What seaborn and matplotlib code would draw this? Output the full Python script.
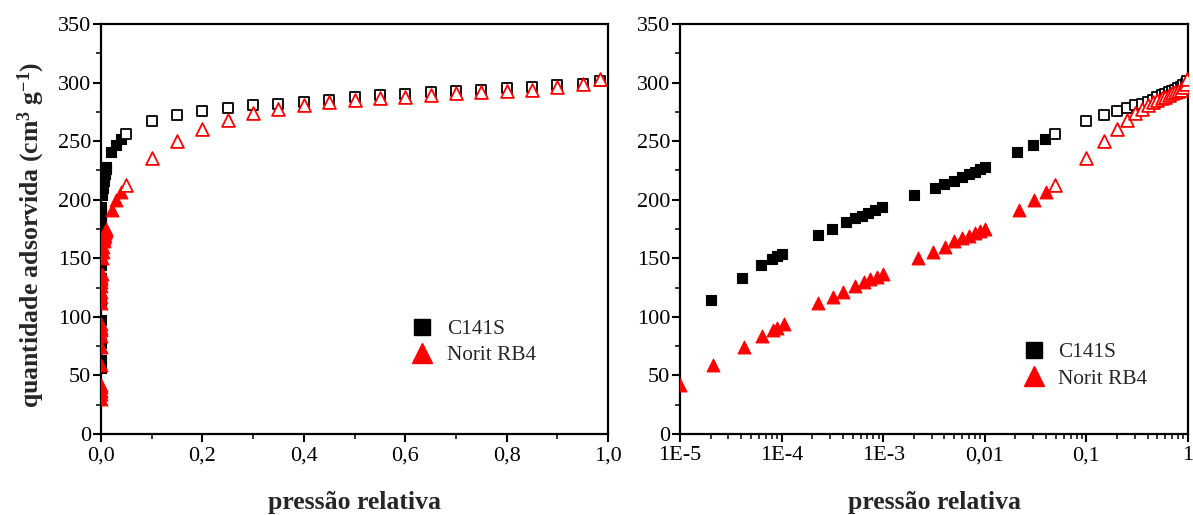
import numpy as np
import pandas as pd
import matplotlib
matplotlib.use("Agg")
import matplotlib.pyplot as plt
import seaborn as sns
from matplotlib.ticker import FixedLocator, MultipleLocator, LogLocator, NullFormatter, FixedFormatter
from matplotlib.lines import Line2D

# ---------------- data ----------------
series_names = ["C141S", "Norit RB4"]

c141s_p = [1.5e-6, 3e-6, 5e-6, 7e-6,
           2.0e-5, 4.1e-5, 6.3e-5, 8.0e-5, 9.0e-5, 1.0e-4,
           2.3e-4, 3.1e-4, 4.3e-4, 5.3e-4, 6.2e-4, 7.1e-4, 8.3e-4, 9.7e-4,
           2.0e-3, 3.2e-3, 4.0e-3, 5.0e-3, 6.0e-3, 7.0e-3, 8.0e-3, 9.0e-3, 1.0e-2,
           0.0207, 0.030, 0.039, 0.049,
           0.10, 0.15, 0.20, 0.25, 0.30, 0.35, 0.40, 0.45, 0.50, 0.55,
           0.60, 0.65, 0.70, 0.75, 0.80, 0.85, 0.90, 0.95, 0.985]
c141s_v = [56, 63, 78, 97,
           114, 133, 144, 149, 152, 154,
           170, 175, 181, 184, 186.5, 189, 191, 193.6,
           204, 210, 213.5, 216, 219, 222, 224, 226, 228,
           240.5, 247, 251.6, 256.5,
           267, 272, 275.5, 278.5, 280.5, 282, 283.5, 285, 287.5, 289,
           290.5, 292, 293, 294, 295, 296, 298, 299, 301.5]

norit_p = [2e-6, 4e-6, 6e-6, 8e-6, 1.0e-5,
           2.1e-5, 4.3e-5, 6.4e-5, 8.2e-5, 9.0e-5, 1.05e-4,
           2.3e-4, 3.2e-4, 4.05e-4, 5.3e-4, 6.4e-4, 7.4e-4, 8.6e-4, 1.0e-3,
           2.2e-3, 3.1e-3, 4.1e-3, 5.0e-3, 6.0e-3, 7.0e-3, 8.0e-3, 9.0e-3, 1.0e-2,
           0.0217, 0.0305, 0.040, 0.049,
           0.10, 0.15, 0.20, 0.25, 0.30, 0.35, 0.40, 0.45, 0.50, 0.55,
           0.60, 0.65, 0.70, 0.75, 0.80, 0.85, 0.90, 0.95, 0.985]
norit_v = [30, 34, 37, 40, 42,
           59, 74.5, 83.5, 89, 90.5, 94,
           111.5, 117, 121.5, 126.5, 130, 132, 134.3, 136.6,
           150, 155.7, 160, 164.8, 167, 169.4, 171.4, 173.4, 174.8,
           191.5, 199.8, 207, 212.5,
           236, 250, 260.5, 268, 274, 277.5, 280.5, 283, 285, 287,
           288, 289.5, 291, 292, 293, 294, 296.5, 299, 303]

left_xticks = [0.0, 0.2, 0.4, 0.6, 0.8, 1.0]
left_xticklabels = ["0,0", "0,2", "0,4", "0,6", "0,8", "1,0"]
right_xticks = [1e-5, 1e-4, 1e-3, 1e-2, 1e-1, 1]
right_xticklabels = ["1E-5", "1E-4", "1E-3", "0,01", "0,1", "1"]
y_ticks = [0, 50, 100, 150, 200, 250, 300, 350]
y_ticklabels = [str(v) for v in y_ticks]
x_label = "pressão relativa"
y_label = r"quantidade adsorvida (cm$^{\mathbf{3}}$ g$^{\mathbf{-1}}$)"

# ---------------- style ----------------
sns.set_theme(style="ticks")
plt.rcParams["font.family"] = ["Liberation Serif", "DejaVu Serif"]
plt.rcParams["mathtext.fontset"] = "custom"
plt.rcParams["mathtext.rm"] = "Liberation Serif"
plt.rcParams["mathtext.bf"] = "Liberation Serif:bold"
plt.rcParams["mathtext.it"] = "Liberation Serif:italic"

df = pd.concat([
    pd.DataFrame({"p": c141s_p, "v": c141s_v, "series": series_names[0]}),
    pd.DataFrame({"p": norit_p, "v": norit_v, "series": series_names[1]}),
], ignore_index=True)
df["state"] = np.where(df["p"] < 0.045, "filled", "open")

styles = {
    "C141S": dict(marker="s", color="black", s=55),
    "Norit RB4": dict(marker="^", color="red", s=85),
}

fig = plt.figure(figsize=(11.93, 5.15), dpi=100)
ax1 = fig.add_axes([101 / 1193, 1 - 434 / 515, 507 / 1193, 410 / 515])
ax2 = fig.add_axes([680 / 1193, 1 - 434 / 515, 508 / 1193, 410 / 515])

for ax in (ax1, ax2):
    z = 3
    for name in series_names:
        st = styles[name]
        sub_f = df[(df.series == name) & (df.state == "filled")]
        sub_o = df[(df.series == name) & (df.state == "open")]
        sns.scatterplot(data=sub_f, x="p", y="v", ax=ax, marker=st["marker"], s=st["s"],
                        color=st["color"], edgecolor=st["color"], linewidth=0.8,
                        legend=False, zorder=z)
        sns.scatterplot(data=sub_o, x="p", y="v", ax=ax, marker=st["marker"], s=st["s"],
                        facecolor="white", edgecolor=st["color"], linewidth=1.3,
                        legend=False, zorder=z)
        z += 1

    ax.set_ylim(0, 350)
    ax.yaxis.set_major_locator(FixedLocator(y_ticks))
    ax.yaxis.set_major_formatter(FixedFormatter(y_ticklabels))
    ax.yaxis.set_minor_locator(MultipleLocator(25))
    ax.set_xlabel(x_label, fontsize=18.5, fontweight="bold", labelpad=18)
    ax.set_ylabel("")
    for sp in ax.spines.values():
        sp.set_visible(True)
        sp.set_linewidth(1.6)
        sp.set_color("black")
    ax.tick_params(axis="both", which="major", direction="out", length=6, width=1.5,
                   labelsize=16, colors="black", top=False, right=False, pad=3)
    ax.tick_params(axis="y", which="major", pad=1)
    ax.tick_params(axis="both", which="minor", direction="out", length=3.5, width=1.3,
                   top=False, right=False)

ax1.set_xlim(0, 1.0)
ax1.xaxis.set_major_locator(FixedLocator(left_xticks))
ax1.xaxis.set_major_formatter(FixedFormatter(left_xticklabels))
ax1.xaxis.set_minor_locator(MultipleLocator(0.1))
ax1.set_ylabel(y_label, fontsize=18.5, fontweight="bold")
ax1.yaxis.set_label_coords(-0.106, 0.485)

ax2.set_xscale("log")
ax2.set_xlim(1e-5, 1)
ax2.xaxis.set_major_locator(FixedLocator(right_xticks))
ax2.xaxis.set_major_formatter(FixedFormatter(right_xticklabels))
ax2.xaxis.set_minor_locator(LogLocator(base=10, subs=np.arange(2, 10)))
ax2.xaxis.set_minor_formatter(NullFormatter())

handles = [
    Line2D([], [], marker="s", color="black", linestyle="None", markersize=11),
    Line2D([], [], marker="^", color="red", linestyle="None", markersize=14),
]
ax1.legend(handles, series_names, loc="center left", bbox_to_anchor=(0.588, 0.224),
           frameon=False, fontsize=15.3, handlelength=1.2, handletextpad=0.55,
           labelspacing=0.3, borderpad=0)
ax2.legend(handles, series_names, loc="center left", bbox_to_anchor=(0.65, 0.167),
           frameon=False, fontsize=15.3, handlelength=1.2, handletextpad=0.55,
           labelspacing=0.3, borderpad=0)

fig.savefig("out.png", dpi=100)
